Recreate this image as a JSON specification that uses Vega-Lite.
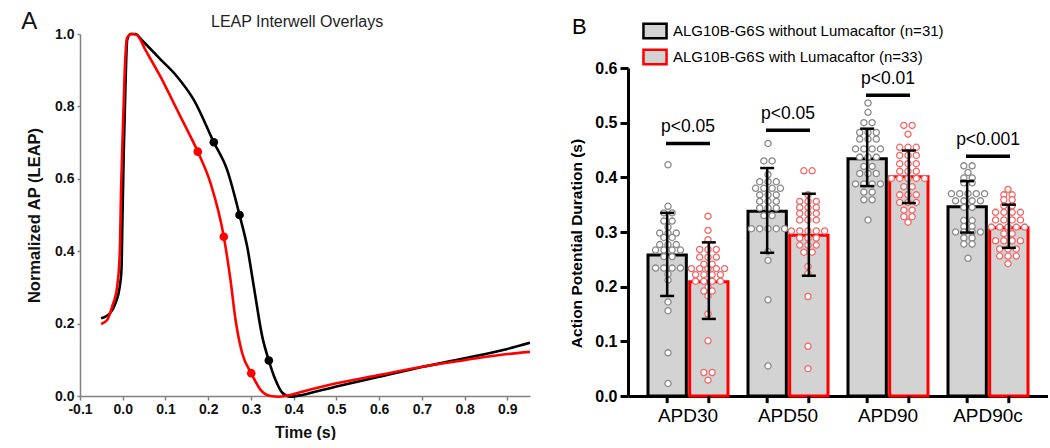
{
  "$schema": "https://vega.github.io/schema/vega-lite/v6.json",
  "padding": {"left": 21, "top": 10, "right": 0, "bottom": 0},
  "config": {
    "font": "Liberation Sans",
    "view": {"stroke": null},
    "axis": {"grid": false, "labelFont": "Liberation Sans", "titleFont": "Liberation Sans"},
    "legend": {"labelLimit": 500}
  },
  "datasets": {
    "traces": [
      {"s": "control", "t": -0.0506, "v": 0.2146}, {"s": "control", "t": -0.0288, "v": 0.23}, {"s": "control", "t": -0.0171, "v": 0.256},
      {"s": "control", "t": -0.007, "v": 0.302}, {"s": "control", "t": -0.003, "v": 0.348}, {"s": "control", "t": -0.0007, "v": 0.486},
      {"s": "control", "t": 0.0023, "v": 0.67}, {"s": "control", "t": 0.0063, "v": 0.854}, {"s": "control", "t": 0.0103, "v": 0.983},
      {"s": "control", "t": 0.018, "v": 1.0}, {"s": "control", "t": 0.0296, "v": 1.0}, {"s": "control", "t": 0.0454, "v": 0.982},
      {"s": "control", "t": 0.0883, "v": 0.93}, {"s": "control", "t": 0.1274, "v": 0.882}, {"s": "control", "t": 0.1663, "v": 0.818},
      {"s": "control", "t": 0.2131, "v": 0.701}, {"s": "control", "t": 0.2445, "v": 0.624}, {"s": "control", "t": 0.2733, "v": 0.5},
      {"s": "control", "t": 0.2913, "v": 0.412}, {"s": "control", "t": 0.3068, "v": 0.302}, {"s": "control", "t": 0.3265, "v": 0.164},
      {"s": "control", "t": 0.3419, "v": 0.098}, {"s": "control", "t": 0.3576, "v": 0.044}, {"s": "control", "t": 0.3733, "v": 0.009},
      {"s": "control", "t": 0.3927, "v": -0.002}, {"s": "control", "t": 0.42, "v": 0.003}, {"s": "control", "t": 0.45, "v": 0.012},
      {"s": "control", "t": 0.5, "v": 0.026}, {"s": "control", "t": 0.6, "v": 0.053}, {"s": "control", "t": 0.7, "v": 0.08},
      {"s": "control", "t": 0.8, "v": 0.104}, {"s": "control", "t": 0.9, "v": 0.13}, {"s": "control", "t": 0.953, "v": 0.147},
      {"s": "lumacaftor", "t": -0.0506, "v": 0.199}, {"s": "lumacaftor", "t": -0.0365, "v": 0.21}, {"s": "lumacaftor", "t": -0.0248, "v": 0.247},
      {"s": "lumacaftor", "t": -0.0131, "v": 0.302}, {"s": "lumacaftor", "t": -0.007, "v": 0.394}, {"s": "lumacaftor", "t": -0.0037, "v": 0.578},
      {"s": "lumacaftor", "t": 0.001, "v": 0.762}, {"s": "lumacaftor", "t": 0.0047, "v": 0.9}, {"s": "lumacaftor", "t": 0.0103, "v": 0.99},
      {"s": "lumacaftor", "t": 0.021, "v": 1.0}, {"s": "lumacaftor", "t": 0.0333, "v": 0.997}, {"s": "lumacaftor", "t": 0.053, "v": 0.956},
      {"s": "lumacaftor", "t": 0.0883, "v": 0.882}, {"s": "lumacaftor", "t": 0.1274, "v": 0.79}, {"s": "lumacaftor", "t": 0.1508, "v": 0.735},
      {"s": "lumacaftor", "t": 0.1756, "v": 0.675}, {"s": "lumacaftor", "t": 0.2054, "v": 0.588}, {"s": "lumacaftor", "t": 0.2365, "v": 0.44},
      {"s": "lumacaftor", "t": 0.2522, "v": 0.32}, {"s": "lumacaftor", "t": 0.264, "v": 0.21}, {"s": "lumacaftor", "t": 0.2796, "v": 0.118},
      {"s": "lumacaftor", "t": 0.3007, "v": 0.063}, {"s": "lumacaftor", "t": 0.3225, "v": 0.017}, {"s": "lumacaftor", "t": 0.346, "v": 0.0},
      {"s": "lumacaftor", "t": 0.365, "v": -0.002}, {"s": "lumacaftor", "t": 0.385, "v": 0.001}, {"s": "lumacaftor", "t": 0.42, "v": 0.012},
      {"s": "lumacaftor", "t": 0.5, "v": 0.035}, {"s": "lumacaftor", "t": 0.6, "v": 0.058}, {"s": "lumacaftor", "t": 0.7, "v": 0.081},
      {"s": "lumacaftor", "t": 0.8, "v": 0.099}, {"s": "lumacaftor", "t": 0.9, "v": 0.116}, {"s": "lumacaftor", "t": 0.953, "v": 0.122}
    ],
    "marks": [
      {"s": "control", "t": 0.2131, "v": 0.701}, {"s": "control", "t": 0.2733, "v": 0.5}, {"s": "control", "t": 0.3419, "v": 0.098},
      {"s": "lumacaftor", "t": 0.1756, "v": 0.675}, {"s": "lumacaftor", "t": 0.2365, "v": 0.44}, {"s": "lumacaftor", "t": 0.3007, "v": 0.063}
    ],
    "summary": [
      {"c": "APD30", "g": "without", "mean": 0.258, "lo": 0.183, "hi": 0.335},
      {"c": "APD30", "g": "with", "mean": 0.209, "lo": 0.141, "hi": 0.281},
      {"c": "APD50", "g": "without", "mean": 0.338, "lo": 0.262, "hi": 0.417},
      {"c": "APD50", "g": "with", "mean": 0.294, "lo": 0.22, "hi": 0.37},
      {"c": "APD90", "g": "without", "mean": 0.434, "lo": 0.384, "hi": 0.489},
      {"c": "APD90", "g": "with", "mean": 0.401, "lo": 0.353, "hi": 0.449},
      {"c": "APD90c", "g": "without", "mean": 0.346, "lo": 0.299, "hi": 0.393},
      {"c": "APD90c", "g": "with", "mean": 0.308, "lo": 0.271, "hi": 0.35}
    ],
    "sig": [
      {"c": "APD30", "ly": 0.462, "ty": 0.492, "p": "p<0.05"},
      {"c": "APD50", "ly": 0.486, "ty": 0.515, "p": "p<0.05"},
      {"c": "APD90", "ly": 0.55, "ty": 0.579, "p": "p<0.01"},
      {"c": "APD90c", "ly": 0.4385, "ty": 0.468, "p": "p<0.001"}
    ],
    "pts": [
      {"c":"APD30","g":"without","v":0.423},{"c":"APD30","g":"without","v":0.347},{"c":"APD30","g":"without","v":0.335},{"c":"APD30","g":"without","v":0.335},
      {"c":"APD30","g":"without","v":0.32},{"c":"APD30","g":"without","v":0.32},{"c":"APD30","g":"without","v":0.309},
      {"c":"APD30","g":"without","v":0.298},{"c":"APD30","g":"without","v":0.298},{"c":"APD30","g":"without","v":0.298},
      {"c":"APD30","g":"without","v":0.29},{"c":"APD30","g":"without","v":0.29},
      {"c":"APD30","g":"without","v":0.277},{"c":"APD30","g":"without","v":0.277},{"c":"APD30","g":"without","v":0.277},
      {"c":"APD30","g":"without","v":0.267},{"c":"APD30","g":"without","v":0.267},{"c":"APD30","g":"without","v":0.267},{"c":"APD30","g":"without","v":0.267},
      {"c":"APD30","g":"without","v":0.255},{"c":"APD30","g":"without","v":0.255},
      {"c":"APD30","g":"without","v":0.234},{"c":"APD30","g":"without","v":0.234},{"c":"APD30","g":"without","v":0.234},{"c":"APD30","g":"without","v":0.234},
      {"c":"APD30","g":"without","v":0.223},{"c":"APD30","g":"without","v":0.212},{"c":"APD30","g":"without","v":0.172},{"c":"APD30","g":"without","v":0.156},
      {"c":"APD30","g":"without","v":0.079},{"c":"APD30","g":"without","v":0.023},
      {"c":"APD30","g":"with","v":0.329},{"c":"APD30","g":"with","v":0.303},{"c":"APD30","g":"with","v":0.286},
      {"c":"APD30","g":"with","v":0.268},{"c":"APD30","g":"with","v":0.268},{"c":"APD30","g":"with","v":0.268},
      {"c":"APD30","g":"with","v":0.254},{"c":"APD30","g":"with","v":0.254},{"c":"APD30","g":"with","v":0.254},
      {"c":"APD30","g":"with","v":0.241},{"c":"APD30","g":"with","v":0.241},
      {"c":"APD30","g":"with","v":0.233},{"c":"APD30","g":"with","v":0.233},{"c":"APD30","g":"with","v":0.233},{"c":"APD30","g":"with","v":0.233},{"c":"APD30","g":"with","v":0.233},
      {"c":"APD30","g":"with","v":0.222},{"c":"APD30","g":"with","v":0.222},{"c":"APD30","g":"with","v":0.222},{"c":"APD30","g":"with","v":0.222},
      {"c":"APD30","g":"with","v":0.21},{"c":"APD30","g":"with","v":0.21},{"c":"APD30","g":"with","v":0.21},{"c":"APD30","g":"with","v":0.21},
      {"c":"APD30","g":"with","v":0.199},{"c":"APD30","g":"with","v":0.192},{"c":"APD30","g":"with","v":0.192},{"c":"APD30","g":"with","v":0.183},
      {"c":"APD30","g":"with","v":0.15},{"c":"APD30","g":"with","v":0.101},{"c":"APD30","g":"with","v":0.043},{"c":"APD30","g":"with","v":0.043},{"c":"APD30","g":"with","v":0.029},
      {"c":"APD50","g":"without","v":0.462},{"c":"APD50","g":"without","v":0.43},{"c":"APD50","g":"without","v":0.43},{"c":"APD50","g":"without","v":0.405},
      {"c":"APD50","g":"without","v":0.392},{"c":"APD50","g":"without","v":0.392},{"c":"APD50","g":"without","v":0.392},
      {"c":"APD50","g":"without","v":0.38},{"c":"APD50","g":"without","v":0.38},{"c":"APD50","g":"without","v":0.38},{"c":"APD50","g":"without","v":0.38},
      {"c":"APD50","g":"without","v":0.368},{"c":"APD50","g":"without","v":0.368},{"c":"APD50","g":"without","v":0.368},
      {"c":"APD50","g":"without","v":0.356},{"c":"APD50","g":"without","v":0.356},{"c":"APD50","g":"without","v":0.356},
      {"c":"APD50","g":"without","v":0.344},{"c":"APD50","g":"without","v":0.344},{"c":"APD50","g":"without","v":0.344},
      {"c":"APD50","g":"without","v":0.33},{"c":"APD50","g":"without","v":0.33},
      {"c":"APD50","g":"without","v":0.306},{"c":"APD50","g":"without","v":0.306},{"c":"APD50","g":"without","v":0.306},{"c":"APD50","g":"without","v":0.306},{"c":"APD50","g":"without","v":0.306},
      {"c":"APD50","g":"without","v":0.264},{"c":"APD50","g":"without","v":0.248},{"c":"APD50","g":"without","v":0.176},{"c":"APD50","g":"without","v":0.055},
      {"c":"APD50","g":"with","v":0.412},{"c":"APD50","g":"with","v":0.412},{"c":"APD50","g":"with","v":0.368},
      {"c":"APD50","g":"with","v":0.356},{"c":"APD50","g":"with","v":0.356},{"c":"APD50","g":"with","v":0.356},
      {"c":"APD50","g":"with","v":0.345},{"c":"APD50","g":"with","v":0.345},{"c":"APD50","g":"with","v":0.345},
      {"c":"APD50","g":"with","v":0.334},{"c":"APD50","g":"with","v":0.334},{"c":"APD50","g":"with","v":0.334},
      {"c":"APD50","g":"with","v":0.322},{"c":"APD50","g":"with","v":0.322},{"c":"APD50","g":"with","v":0.322},
      {"c":"APD50","g":"with","v":0.302},{"c":"APD50","g":"with","v":0.302},{"c":"APD50","g":"with","v":0.302},{"c":"APD50","g":"with","v":0.302},{"c":"APD50","g":"with","v":0.302},
      {"c":"APD50","g":"with","v":0.289},{"c":"APD50","g":"with","v":0.289},{"c":"APD50","g":"with","v":0.289},
      {"c":"APD50","g":"with","v":0.276},{"c":"APD50","g":"with","v":0.276},{"c":"APD50","g":"with","v":0.276},
      {"c":"APD50","g":"with","v":0.263},{"c":"APD50","g":"with","v":0.263},
      {"c":"APD50","g":"with","v":0.237},{"c":"APD50","g":"with","v":0.224},{"c":"APD50","g":"with","v":0.182},{"c":"APD50","g":"with","v":0.091},{"c":"APD50","g":"with","v":0.05},
      {"c":"APD90","g":"without","v":0.536},{"c":"APD90","g":"without","v":0.519},{"c":"APD90","g":"without","v":0.5},{"c":"APD90","g":"without","v":0.5},
      {"c":"APD90","g":"without","v":0.482},{"c":"APD90","g":"without","v":0.482},{"c":"APD90","g":"without","v":0.482},
      {"c":"APD90","g":"without","v":0.47},{"c":"APD90","g":"without","v":0.47},{"c":"APD90","g":"without","v":0.47},
      {"c":"APD90","g":"without","v":0.452},{"c":"APD90","g":"without","v":0.452},{"c":"APD90","g":"without","v":0.452},{"c":"APD90","g":"without","v":0.452},
      {"c":"APD90","g":"without","v":0.437},{"c":"APD90","g":"without","v":0.437},{"c":"APD90","g":"without","v":0.437},
      {"c":"APD90","g":"without","v":0.42},{"c":"APD90","g":"without","v":0.42},
      {"c":"APD90","g":"without","v":0.407},{"c":"APD90","g":"without","v":0.407},{"c":"APD90","g":"without","v":0.407},
      {"c":"APD90","g":"without","v":0.388},{"c":"APD90","g":"without","v":0.388},{"c":"APD90","g":"without","v":0.388},{"c":"APD90","g":"without","v":0.388},
      {"c":"APD90","g":"without","v":0.373},{"c":"APD90","g":"without","v":0.373},{"c":"APD90","g":"without","v":0.359},{"c":"APD90","g":"without","v":0.359},
      {"c":"APD90","g":"without","v":0.322},
      {"c":"APD90","g":"with","v":0.495},{"c":"APD90","g":"with","v":0.495},{"c":"APD90","g":"with","v":0.479},
      {"c":"APD90","g":"with","v":0.455},{"c":"APD90","g":"with","v":0.455},{"c":"APD90","g":"with","v":0.455},
      {"c":"APD90","g":"with","v":0.44},{"c":"APD90","g":"with","v":0.44},{"c":"APD90","g":"with","v":0.44},
      {"c":"APD90","g":"with","v":0.425},{"c":"APD90","g":"with","v":0.425},{"c":"APD90","g":"with","v":0.425},
      {"c":"APD90","g":"with","v":0.411},{"c":"APD90","g":"with","v":0.411},{"c":"APD90","g":"with","v":0.411},
      {"c":"APD90","g":"with","v":0.398},{"c":"APD90","g":"with","v":0.398},{"c":"APD90","g":"with","v":0.398},{"c":"APD90","g":"with","v":0.398},{"c":"APD90","g":"with","v":0.398},
      {"c":"APD90","g":"with","v":0.383},{"c":"APD90","g":"with","v":0.383},
      {"c":"APD90","g":"with","v":0.368},{"c":"APD90","g":"with","v":0.368},{"c":"APD90","g":"with","v":0.368},
      {"c":"APD90","g":"with","v":0.354},{"c":"APD90","g":"with","v":0.354},{"c":"APD90","g":"with","v":0.354},
      {"c":"APD90","g":"with","v":0.34},{"c":"APD90","g":"with","v":0.34},{"c":"APD90","g":"with","v":0.328},{"c":"APD90","g":"with","v":0.328},
      {"c":"APD90","g":"with","v":0.318},
      {"c":"APD90c","g":"without","v":0.421},{"c":"APD90c","g":"without","v":0.421},{"c":"APD90c","g":"without","v":0.409},
      {"c":"APD90c","g":"without","v":0.399},{"c":"APD90c","g":"without","v":0.399},{"c":"APD90c","g":"without","v":0.39},{"c":"APD90c","g":"without","v":0.39},
      {"c":"APD90c","g":"without","v":0.37},{"c":"APD90c","g":"without","v":0.37},{"c":"APD90c","g":"without","v":0.37},{"c":"APD90c","g":"without","v":0.37},{"c":"APD90c","g":"without","v":0.37},
      {"c":"APD90c","g":"without","v":0.357},{"c":"APD90c","g":"without","v":0.357},{"c":"APD90c","g":"without","v":0.357},{"c":"APD90c","g":"without","v":0.357},
      {"c":"APD90c","g":"without","v":0.345},{"c":"APD90c","g":"without","v":0.345},
      {"c":"APD90c","g":"without","v":0.321},{"c":"APD90c","g":"without","v":0.321},{"c":"APD90c","g":"without","v":0.31},{"c":"APD90c","g":"without","v":0.31},
      {"c":"APD90c","g":"without","v":0.3},{"c":"APD90c","g":"without","v":0.3},{"c":"APD90c","g":"without","v":0.3},{"c":"APD90c","g":"without","v":0.3},
      {"c":"APD90c","g":"without","v":0.289},{"c":"APD90c","g":"without","v":0.289},{"c":"APD90c","g":"without","v":0.278},{"c":"APD90c","g":"without","v":0.278},
      {"c":"APD90c","g":"without","v":0.252},
      {"c":"APD90c","g":"with","v":0.378},{"c":"APD90c","g":"with","v":0.368},{"c":"APD90c","g":"with","v":0.368},
      {"c":"APD90c","g":"with","v":0.359},{"c":"APD90c","g":"with","v":0.359},{"c":"APD90c","g":"with","v":0.348},{"c":"APD90c","g":"with","v":0.348},
      {"c":"APD90c","g":"with","v":0.336},{"c":"APD90c","g":"with","v":0.336},{"c":"APD90c","g":"with","v":0.336},{"c":"APD90c","g":"with","v":0.336},
      {"c":"APD90c","g":"with","v":0.322},{"c":"APD90c","g":"with","v":0.322},{"c":"APD90c","g":"with","v":0.322},{"c":"APD90c","g":"with","v":0.322},
      {"c":"APD90c","g":"with","v":0.309},{"c":"APD90c","g":"with","v":0.309},{"c":"APD90c","g":"with","v":0.309},{"c":"APD90c","g":"with","v":0.309},{"c":"APD90c","g":"with","v":0.309},
      {"c":"APD90c","g":"with","v":0.297},{"c":"APD90c","g":"with","v":0.297},
      {"c":"APD90c","g":"with","v":0.284},{"c":"APD90c","g":"with","v":0.284},{"c":"APD90c","g":"with","v":0.284},{"c":"APD90c","g":"with","v":0.284},
      {"c":"APD90c","g":"with","v":0.269},{"c":"APD90c","g":"with","v":0.269},{"c":"APD90c","g":"with","v":0.269},
      {"c":"APD90c","g":"with","v":0.256},{"c":"APD90c","g":"with","v":0.256},{"c":"APD90c","g":"with","v":0.256},
      {"c":"APD90c","g":"with","v":0.242}
    ]
  },
  "bounds": "flush",
  "spacing": 98,
  "hconcat": [
    {
      "width": 450,
      "height": 362,
      "layer": [
        {
          "data": {"name": "traces"},
          "mark": {"type": "line", "interpolate": "monotone", "strokeWidth": 2.6},
          "encoding": {
            "x": {
              "field": "t", "type": "quantitative",
              "scale": {"domain": [-0.1, 0.953], "nice": false, "zero": false},
              "axis": {
                "title": "Time (s)", "titleFontSize": 16, "titleFontWeight": "bold", "titleColor": "#111111", "titlePadding": 8,
                "labelFontSize": 14, "labelFontWeight": "bold", "labelColor": "#111111", "labelFlush": false, "labelOverlap": false,
                "labelPadding": 2, "tickSize": 4, "tickColor": "#808080", "tickWidth": 1.5, "domainColor": "#808080", "domainWidth": 1.5,
                "values": [-0.1, 0, 0.1, 0.2, 0.3, 0.4, 0.5, 0.6, 0.7, 0.8, 0.9],
                "labelExpr": "replace(format(datum.value, '.1f'), '\u2212', '-')"
              }
            },
            "y": {
              "field": "v", "type": "quantitative",
              "scale": {"domain": [0, 1], "nice": false},
              "axis": {
                "title": "Normalized AP (LEAP)", "titleFontSize": 16.5, "titleFontWeight": "bold", "titleColor": "#111111", "titlePadding": 12,
                "labelFontSize": 14, "labelFontWeight": "bold", "labelColor": "#111111", "labelFlush": false,
                "labelPadding": 3, "tickSize": 3, "tickColor": "#808080", "tickWidth": 1.5, "domainColor": "#808080", "domainWidth": 1.5,
                "values": [0, 0.2, 0.4, 0.6, 0.8, 1.0], "format": ".1f"
              }
            },
            "color": {"field": "s", "type": "nominal", "scale": {"domain": ["control", "lumacaftor"], "range": ["#000000", "#ff0000"]}, "legend": null}
          }
        },
        {
          "data": {"name": "marks"},
          "mark": {"type": "point", "shape": "circle", "filled": true, "size": 75, "opacity": 1},
          "encoding": {
            "x": {"field": "t", "type": "quantitative"},
            "y": {"field": "v", "type": "quantitative"},
            "color": {"field": "s", "type": "nominal", "legend": null}
          }
        },
        {
          "data": {"values": [{}]},
          "mark": {"type": "text", "fontSize": 24, "align": "left", "baseline": "middle", "color": "#111111", "font": "Liberation Sans"},
          "encoding": {"x": {"datum": -0.2375}, "y": {"datum": 1.033}, "text": {"value": "A"}}
        },
        {
          "data": {"values": [{}]},
          "mark": {"type": "text", "fontSize": 16, "align": "center", "baseline": "middle", "color": "#222222", "font": "Liberation Sans"},
          "encoding": {"x": {"datum": 0.408}, "y": {"datum": 1.033}, "text": {"value": "LEAP Interwell Overlays"}}
        }
      ]
    },
    {
      "width": 420,
      "height": 362,
      "resolve": {"scale": {"xOffset": "independent", "stroke": "independent"}},
      "layer": [
        {
          "data": {"name": "summary"},
          "mark": {"type": "bar", "fill": "#d3d3d3", "strokeWidth": 3},
          "encoding": {
            "x": {
              "field": "c", "type": "nominal", "title": null,
              "scale": {"paddingInner": 0.2, "paddingOuter": 0.2},
              "axis": {"ticks": false, "domainWidth": 3, "domainColor": "#000000", "labelFontSize": 19, "labelColor": "#000000", "labelPadding": 10, "labelAngle": 0}
            },
            "xOffset": {"field": "g", "type": "nominal", "sort": ["without", "with"], "scale": {"paddingInner": 0.08}},
            "y": {
              "field": "mean", "type": "quantitative", "title": "Action Potential Duration (s)",
              "scale": {"domain": [0, 0.6], "range": [362, 34], "nice": false},
              "axis": {
                "titleFontSize": 15.5, "titleFontWeight": "bold", "titleColor": "#000000", "titlePadding": 10, "titleY": 209,
                "labelFontSize": 16, "labelFontWeight": "bold", "labelColor": "#000000", "labelPadding": 3, "labelFlush": false,
                "tickSize": 8, "tickWidth": 3, "tickColor": "#000000", "domainWidth": 3, "domainColor": "#000000",
                "values": [0, 0.1, 0.2, 0.3, 0.4, 0.5, 0.6], "format": ".1f"
              }
            },
            "stroke": {
              "field": "g", "type": "nominal",
              "scale": {"domain": ["without", "with"], "range": ["#000000", "#ff0000"]},
              "legend": {
                "orient": "none", "legendX": -56, "legendY": -15, "padding": 0,
                "title": "B", "titleOrient": "left", "titleAnchor": "start", "titleFontSize": 22, "titleFontWeight": "normal",
                "titleColor": "#000000", "titleFont": "Liberation Sans", "titlePadding": 56, "titleBaseline": "line-top", "titleLineHeight": 17,
                "labelFontSize": 15, "labelFont": "Liberation Sans", "labelOffset": 6,
                "symbolType": "M-1.1,-0.68H1.1V0.68H-1.1Z", "symbolSize": 441, "symbolStrokeWidth": 2.5, "symbolFillColor": "#d3d3d3",
                "rowPadding": 0,
                "labelExpr": "datum.value === 'with' ? 'ALG10B-G6S with Lumacaftor (n=33)' : 'ALG10B-G6S without Lumacaftor (n=31)'",
                "encode": {
                  "labels": {"update": {"fill": {"signal": "datum.value === 'with' ? '#ff0000' : '#000000'"}}},
                  "symbols": {"update": {"fill": {"value": "#d3d3d3"}, "strokeWidth": {"value": 2.5}}}
                }
              }
            }
          }
        },
        {
          "data": {"name": "pts"},
          "transform": [
            {"window": [{"op": "row_number", "as": "rn"}], "groupby": ["c", "g", "v"]},
            {"joinaggregate": [{"op": "count", "as": "n"}], "groupby": ["c", "g", "v"]},
            {"calculate": "(datum.g === 'without' ? 20 : 60) + (datum.rn - (datum.n + 1) / 2) * 8.3", "as": "off"}
          ],
          "mark": {"type": "point", "shape": "circle", "filled": true, "fill": "#ffffff", "size": 38, "strokeWidth": 1.3, "opacity": 1},
          "encoding": {
            "x": {"field": "c", "type": "nominal", "title": null},
            "xOffset": {"field": "off", "type": "quantitative", "scale": {"domain": [0, 80], "range": [0, 80]}},
            "y": {"field": "v", "type": "quantitative", "title": "Action Potential Duration (s)"},
            "stroke": {"field": "g", "type": "nominal", "scale": {"domain": ["without", "with"], "range": ["#8a8a8a", "#f26868"]}, "legend": null}
          }
        },
        {
          "data": {"name": "summary"},
          "mark": {"type": "rule", "strokeWidth": 2.5, "color": "#000000"},
          "encoding": {
            "x": {"field": "c", "type": "nominal", "title": null},
            "xOffset": {"field": "g", "type": "nominal", "sort": ["without", "with"], "scale": {"paddingInner": 0.08}},
            "y": {"field": "lo", "type": "quantitative", "title": "Action Potential Duration (s)"},
            "y2": {"field": "hi"}
          }
        },
        {
          "data": {"name": "summary"},
          "mark": {"type": "tick", "size": 14, "thickness": 2.5, "color": "#000000", "opacity": 1},
          "encoding": {
            "x": {"field": "c", "type": "nominal", "title": null},
            "xOffset": {"field": "g", "type": "nominal", "sort": ["without", "with"], "scale": {"paddingInner": 0.08}},
            "y": {"field": "lo", "type": "quantitative", "title": "Action Potential Duration (s)"}
          }
        },
        {
          "data": {"name": "summary"},
          "mark": {"type": "tick", "size": 14, "thickness": 2.5, "color": "#000000", "opacity": 1},
          "encoding": {
            "x": {"field": "c", "type": "nominal", "title": null},
            "xOffset": {"field": "g", "type": "nominal", "sort": ["without", "with"], "scale": {"paddingInner": 0.08}},
            "y": {"field": "hi", "type": "quantitative", "title": "Action Potential Duration (s)"}
          }
        },
        {
          "data": {"name": "sig"},
          "mark": {"type": "tick", "size": 44, "thickness": 3.5, "color": "#000000", "opacity": 1},
          "encoding": {
            "x": {"field": "c", "type": "nominal", "title": null},
            "y": {"field": "ly", "type": "quantitative", "title": "Action Potential Duration (s)"}
          }
        },
        {
          "data": {"name": "sig"},
          "mark": {"type": "text", "fontSize": 17.5, "font": "Liberation Sans", "baseline": "middle", "align": "center", "color": "#000000"},
          "encoding": {
            "x": {"field": "c", "type": "nominal", "title": null},
            "y": {"field": "ty", "type": "quantitative", "title": "Action Potential Duration (s)"},
            "text": {"field": "p"}
          }
        },
        {
          "data": {"name": "summary"},
          "mark": {"type": "rule", "strokeWidth": 3, "color": "#000000"},
          "encoding": {
            "x": {"field": "c", "type": "nominal", "title": null},
            "xOffset": {"field": "g", "type": "nominal", "sort": ["without", "with"], "scale": {"paddingInner": 0.08}},
            "y": {"datum": 0},
            "y2": {"datum": -0.013}
          }
        }
      ]
    }
  ]
}
